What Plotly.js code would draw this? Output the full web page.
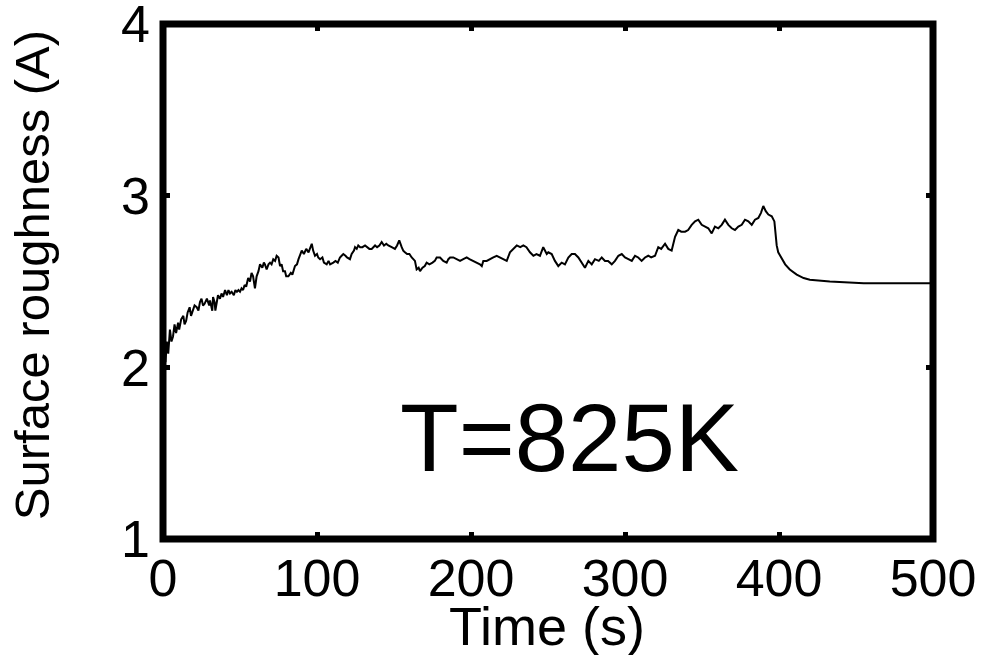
<!DOCTYPE html>
<html>
<head>
<meta charset="utf-8">
<script src="https://cdn.plot.ly/plotly-3.0.1.min.js"></script>
<style>html,body{margin:0;padding:0;background:#fff;}#chart{width:982px;height:655px;}</style>
</head>
<body>
<div id="chart"></div>
<script>
// Time (s)
const timeS = [
  0, 0.8, 1.6, 2.5, 3.4, 4.5, 5.5, 6.5, 7.5, 8.5, 9.8, 10.5, 11.8, 13.2, 14, 15, 16, 17.3, 18.2, 19,
  20.5, 21.9, 23, 24, 25, 26, 27, 28.5, 30, 30.5, 31.5, 32, 32.5, 33.5, 34, 35, 35.7, 37, 38, 39,
  40.3, 41.5, 42.5, 43.5, 44.6, 46, 47, 48, 49, 50, 51, 52, 53, 54, 55.3, 56.5, 57.5, 58.5, 59.7, 60.8,
  62, 63, 64.5, 65.5, 66.2, 67.3, 68.5, 69.5, 70.5, 71.6, 72.8, 73.8, 75, 76, 77, 78, 79.2, 80, 81.4, 83,
  84, 85.7, 87, 88, 90.1, 91.5, 93, 94.5, 96.6, 97.5, 98.7, 100, 100.8, 102, 103.5, 104.5, 106.3, 107.5, 108.5, 110.6,
  112, 113.5, 114.9, 116, 117.1, 118.5, 119.5, 121.4, 122.5, 124, 124.7, 125.8, 126.8, 128, 129.5, 131.2, 132.5, 134, 135.5, 137.7,
  139, 140.5, 142, 143.5, 145, 146.3, 148.5, 150.6, 152, 153.4, 155, 156, 157.1, 158.5, 160, 161.5, 163.6, 164.7, 166, 166.9,
  168.5, 170, 171.2, 173, 175, 176.5, 177.7, 179.9, 182, 184.2, 185.3, 186.4, 188.5, 190.5, 192.9, 195, 197.2, 199, 201.5, 203.7,
  205.8, 207, 208, 210.2, 212, 214.5, 216.7, 219, 221, 223.2, 225.3, 227.5, 229.7, 232, 234, 236, 238.3, 240.5, 242.5, 244.8,
  246.9, 249.2, 250.2, 252.4, 254.5, 256.7, 258.9, 261, 263.2, 265.4, 267.5, 269.7, 271.9, 274, 276.2, 278.4, 280.5, 283, 284.9, 287,
  289, 291.4, 293.5, 295.7, 297.9, 300, 302.2, 304.4, 306.5, 308.6, 310.8, 313, 315.1, 317, 319.5, 321.6, 323.5, 326, 328.1, 330.3,
  332.5, 334.6, 336.5, 339, 341, 343.3, 345.5, 347.6, 349.8, 352, 354.1, 356.3, 358.4, 360.6, 362.8, 364.9, 367.1, 369.3, 371.4, 373.6,
  375.8, 377.9, 380.1, 382.3, 384.4, 386.6, 388.3, 389.8, 391.4, 393.1, 395.3, 397, 397.4, 398.5, 399.5, 401.8, 404, 407, 411.5, 416,
  420, 433, 455, 500
];
// Surface roughness (A)
const roughness = [
  2.05, 2.12, 2.03, 2.15, 2.08, 2.22, 2.15, 2.18, 2.25, 2.2, 2.26, 2.22, 2.28, 2.3, 2.25, 2.27, 2.32, 2.35, 2.3, 2.32,
  2.36, 2.35, 2.33, 2.38, 2.4, 2.36, 2.37, 2.4, 2.36, 2.39, 2.35, 2.33, 2.41, 2.38, 2.33, 2.38, 2.42, 2.4, 2.43, 2.41,
  2.45, 2.42, 2.45, 2.43, 2.44, 2.42, 2.45, 2.44, 2.45, 2.44, 2.46, 2.45, 2.48, 2.47, 2.52, 2.5, 2.55, 2.53, 2.46, 2.53,
  2.56, 2.6, 2.58, 2.61, 2.6, 2.57, 2.6, 2.61, 2.6, 2.63, 2.62, 2.65, 2.64, 2.59, 2.6, 2.56, 2.56, 2.53, 2.53, 2.55,
  2.54, 2.59, 2.6, 2.63, 2.68, 2.66, 2.69, 2.67, 2.72, 2.68, 2.65, 2.66, 2.64, 2.63, 2.64, 2.61, 2.6, 2.62, 2.6, 2.61,
  2.62, 2.61, 2.64, 2.65, 2.66, 2.65, 2.64, 2.63, 2.66, 2.68, 2.7, 2.69, 2.71, 2.7, 2.7, 2.71, 2.7, 2.69, 2.69, 2.71,
  2.7, 2.71, 2.73, 2.71, 2.72, 2.71, 2.7, 2.69, 2.71, 2.74, 2.7, 2.68, 2.67, 2.66, 2.66, 2.64, 2.62, 2.57, 2.58, 2.56,
  2.58, 2.59, 2.61, 2.6, 2.61, 2.62, 2.64, 2.64, 2.62, 2.61, 2.63, 2.64, 2.64, 2.63, 2.62, 2.63, 2.64, 2.63, 2.62, 2.61,
  2.6, 2.59, 2.62, 2.62, 2.63, 2.64, 2.65, 2.64, 2.63, 2.62, 2.67, 2.69, 2.71, 2.7, 2.71, 2.7, 2.67, 2.65, 2.66, 2.65,
  2.7, 2.66, 2.67, 2.66, 2.62, 2.59, 2.61, 2.6, 2.64, 2.66, 2.66, 2.64, 2.61, 2.58, 2.62, 2.6, 2.63, 2.62, 2.64, 2.62,
  2.62, 2.6, 2.62, 2.65, 2.66, 2.64, 2.63, 2.62, 2.65, 2.64, 2.62, 2.64, 2.65, 2.64, 2.65, 2.7, 2.69, 2.72, 2.69, 2.68,
  2.76, 2.8, 2.79, 2.79, 2.8, 2.83, 2.85, 2.86, 2.83, 2.82, 2.81, 2.78, 2.82, 2.81, 2.83, 2.86, 2.83, 2.81, 2.8, 2.82,
  2.83, 2.86, 2.85, 2.83, 2.86, 2.87, 2.9, 2.94, 2.91, 2.89, 2.88, 2.85, 2.8, 2.71, 2.67, 2.63, 2.6, 2.57, 2.54, 2.52,
  2.51, 2.5, 2.49, 2.49
];
const xTicks = [0, 100, 200, 300, 400, 500];
const yTicks = [1, 2, 3, 4];
const xTitle = "Time (s)";
const yTitle = "Surface roughness (A)";
const annotationText = "T=825K";

const FONT = "Liberation Sans, Arial, Helvetica, sans-serif";

const trace = {
  x: timeS,
  y: roughness,
  type: "scatter",
  mode: "lines",
  line: {color: "#000", width: 2},
  hoverinfo: "skip"
};

const layout = {
  width: 982,
  height: 655,
  margin: {l: 163, r: 49, t: 24, b: 116, pad: 0},
  paper_bgcolor: "#fff",
  plot_bgcolor: "#fff",
  showlegend: false,
  font: {family: FONT, color: "#000"},
  xaxis: {
    range: [0, 500],
    tickvals: xTicks,
    ticktext: xTicks.map(String),
    ticks: "inside",
    ticklen: 7,
    tickwidth: 5,
    tickcolor: "#000",
    mirror: "ticks",
    showline: false,
    showgrid: false,
    zeroline: false,
    tickfont: {family: FONT, size: 52, color: "#000"},
    ticklabelstandoff: 4,
    ticklabeloverflow: "allow",
    automargin: false
  },
  yaxis: {
    range: [1, 4],
    tickvals: yTicks,
    ticktext: yTicks.map(String),
    ticks: "inside",
    ticklen: 7,
    tickwidth: 5,
    tickcolor: "#000",
    mirror: "ticks",
    showline: false,
    showgrid: false,
    zeroline: false,
    tickfont: {family: FONT, size: 52, color: "#000"},
    ticklabelstandoff: 12,
    ticklabeloverflow: "allow",
    automargin: false
  },
  shapes: [{
    type: "rect", xref: "paper", yref: "paper",
    x0: 0, x1: 1, y0: 0, y1: 1,
    line: {color: "#000", width: 7},
    fillcolor: "rgba(0,0,0,0)",
    layer: "above"
  }],
  annotations: [
    {
      text: annotationText,
      x: 264, y: 1.59, xref: "x", yref: "y",
      xanchor: "center", yanchor: "middle",
      showarrow: false,
      font: {family: FONT, size: 96, color: "#000"}
    },
    {
      text: xTitle,
      x: 0.499, y: -0.168, xref: "paper", yref: "paper",
      xanchor: "center", yanchor: "middle",
      showarrow: false,
      font: {family: FONT, size: 54, color: "#000"}
    },
    {
      text: yTitle,
      x: -0.171, y: 0.513, xref: "paper", yref: "paper",
      xanchor: "center", yanchor: "middle",
      textangle: -90,
      showarrow: false,
      font: {family: FONT, size: 49, color: "#000"}
    }
  ]
};

Plotly.newPlot("chart", [trace], layout, {staticPlot: true, displayModeBar: false});
</script>
</body>
</html>
